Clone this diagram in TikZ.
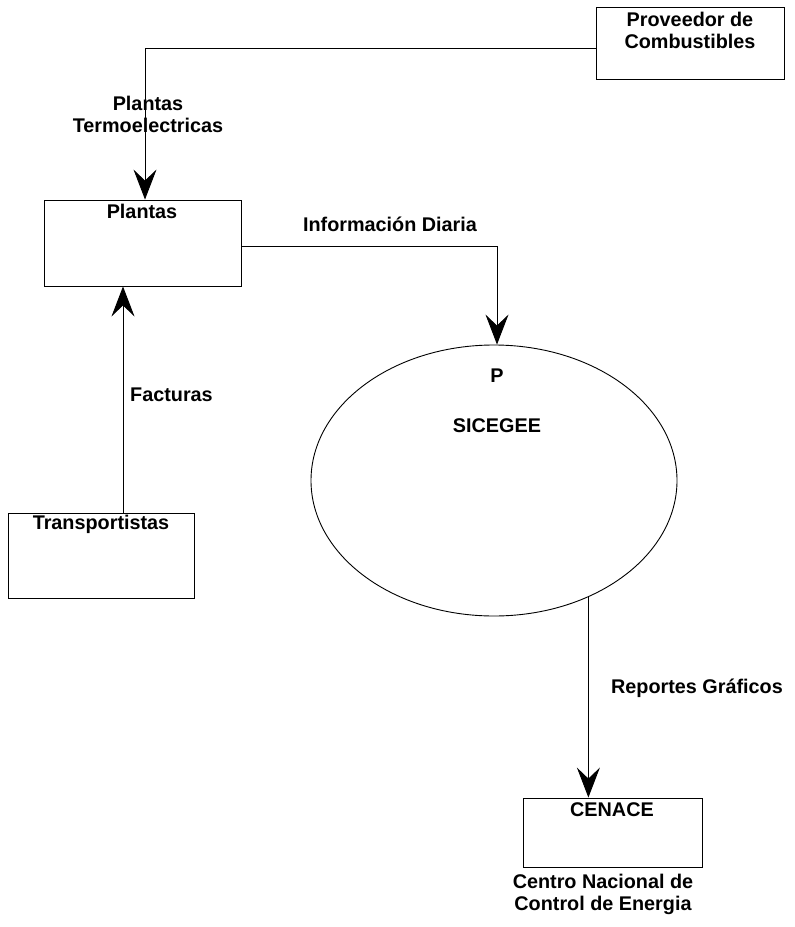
\documentclass[tikz,border=0pt]{standalone}
\usepackage{fontspec}
\setmainfont{Liberation Sans}
\usetikzlibrary{arrows.meta,shapes.geometric}

\tikzset{
  entity/.style={draw, line width=0.9pt, minimum width=#1, inner sep=0pt},
  txt/.style={font=\bfseries\fontsize{19.8}{22}\selectfont, inner sep=0pt, align=center},
  flow/.style={draw, line width=0.9pt,
    -{Stealth[length=30pt, width=23pt, inset=11pt]}},
  proc/.style={draw, line width=0.9pt, ellipse, inner sep=0pt},
}

\begin{document}
\begin{tikzpicture}[x=1pt, y=-1pt]
  \useasboundingbox (0,0) rectangle (795,927);

  % external entities and the process
  \node[entity=188pt, minimum height=72pt] (prov) at (690,43) {};
  \node[entity=197pt, minimum height=86pt] (plantas) at (142.5,243) {};
  \node[entity=186pt, minimum height=85pt] (transp) at (101,555.5) {};
  \node[entity=179pt, minimum height=69pt] (cenace) at (612.5,832.5) {};
  \node[proc, minimum width=366pt, minimum height=271pt] (sic) at (494,480.5) {};

  % titles inside the shapes
  \node[txt] (tprov) at (690,30) {Proveedor de\\Combustibles};
  \node[txt] (tplantas) at (142,211) {Plantas};
  \node[txt] (ttransp) at (101,524) {Transportistas};
  \node[txt] (tcenace) at (612,810) {CENACE};
  \node[txt] (tp) at (497,376) {P};
  \node[txt] (tsic) at (497,426) {SICEGEE};

  % data flows
  \draw[flow] ([yshift=-5pt]prov.west) -| ([xshift=2.5pt]plantas.north);
  \draw[flow] ([xshift=22pt]transp.north) -- ([xshift=22pt]transp.north |- plantas.south);
  \draw[flow] ([yshift=-3pt]plantas.east) -| ([xshift=3pt]sic.north);
  \draw[flow] (sic.-51.5) -- (sic.-51.5 |- cenace.north);

  % flow labels
  \node[txt] (lterm) at (148,114) {Plantas\\Termoelectricas};
  \node[txt] (linfo) at (390,224) {Información Diaria};
  \node[txt, anchor=west] (lfact) at (130,395) {Facturas};
  \node[txt] (lrep) at (697,688) {Reportes Gráficos};
  \node[txt] (lcen) at (603,894) {Centro Nacional de\\Control de Energia};
\end{tikzpicture}
\end{document}
